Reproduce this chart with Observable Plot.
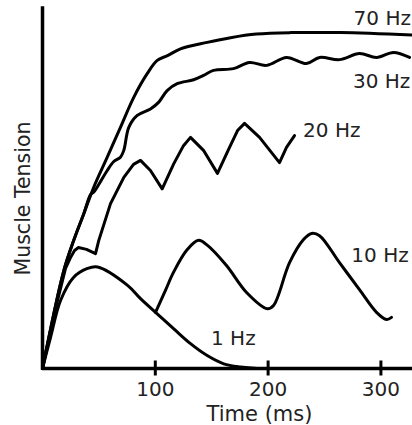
<!DOCTYPE html>
<html><head><meta charset="utf-8">
<script src="https://cdn.jsdelivr.net/npm/d3@7"></script>
<script src="https://cdn.jsdelivr.net/npm/@observablehq/plot@0.6"></script>
<style>
html,body{margin:0;padding:0;background:#fff;}
</style>
</head><body><div id="chart"></div>
<script>
// Time (ms) and muscle tension (arbitrary units, 0–100) for each stimulation frequency
const t70 = [0, 18.9, 27.7, 36.6, 45.5, 57.4, 69.1, 81.0, 92.8, 101.7, 110.8, 122.3, 146.0, 166.7, 189.7, 219.9, 264.2, 328];
const v70 = [0, 27.2, 35.6, 43.0, 50.4, 58.7, 67.0, 75.4, 81.9, 85.6, 86.9, 88.8, 90.6, 91.9, 92.9, 93.3, 93.3, 92.6];

const t30 = [0, 18.9, 27.7, 36.6, 42.6, 45.5, 51.4, 57.4, 63.2, 69.1, 72.1, 76.5, 84.0, 95.7, 103.1, 110.5, 119.4, 133.9, 142.7, 151.6, 169.3, 183.5, 198.6, 216.3, 234.0, 245.6, 263.3, 281.0, 296.1, 311.2, 325.4];
const v30 = [0, 27.2, 35.6, 43.0, 48.3, 49.0, 51.9, 55.0, 57.5, 58.7, 60.6, 67.0, 70.3, 72.1, 74.0, 77.2, 79.1, 80.2, 81.4, 82.8, 83.3, 85.0, 84.2, 86.4, 84.7, 86.4, 85.8, 87.5, 86.4, 87.8, 86.4];

const t20 = [0, 11.1, 20.4, 24.8, 28.4, 31.9, 39.0, 47.0, 49.9, 60.3, 72.1, 80.7, 86.9, 95.7, 106.1, 116.4, 125.0, 131.2, 142.7, 155.1, 165.8, 172.9, 179.1, 192.4, 210.1, 216.3, 223.4];
const v20 = [0, 16.1, 27.8, 30.8, 32.8, 33.6, 33.1, 31.9, 35.6, 45.8, 53.1, 56.7, 57.8, 55.0, 49.9, 56.9, 61.9, 64.2, 60.6, 54.2, 61.4, 66.1, 68.1, 64.2, 57.2, 61.4, 64.7];

const t10 = [100.2, 109.0, 116.1, 128.5, 138.3, 146.3, 163.1, 180.9, 199.2, 204.8, 219.0, 231.4, 238.5, 245.6, 263.3, 281.0, 296.1, 305.0, 309.4];
const v10 = [15.6, 21.7, 26.7, 33.1, 35.6, 34.2, 28.6, 21.1, 16.6, 17.5, 29.4, 35.8, 37.5, 36.9, 29.4, 21.9, 15.6, 13.6, 14.2];

const t1 = [0, 7.1, 16.0, 27.5, 39.9, 48.8, 75.4, 86.9, 100.2, 116.4, 131.2, 146.0, 160.7, 175.5, 190.3, 200.4];
const v1 = [0, 8.6, 18.9, 25.3, 27.8, 28.2, 23.1, 19.4, 15.6, 11.0, 6.9, 3.6, 1.3, 0.4, 0, 0];

const seriesNames = ["70 Hz", "30 Hz", "20 Hz", "10 Hz", "1 Hz"];
const labelTimes = [275.8, 275.2, 231.0, 273.8, 149.4];
const labelTensions = [97.1, 79.75, 66.2, 31.4, 8.2];
const xTicks = [100, 200, 300];
const xTitle = "Time (ms)";
const yTitle = "Muscle Tension";

const rows = (ts, vs) => ts.map((t, i) => ({t, v: vs[i]}));
const labels = seriesNames.map((name, i) => ({name, t: labelTimes[i], v: labelTensions[i]}));
const font = "'DejaVu Sans', Verdana, sans-serif";
const ink = "#000";
const textInk = "#222";
const lineOpts = {x: "t", y: "v", stroke: ink, strokeWidth: 3, strokeLinejoin: "round", strokeLinecap: "round"};

const chart = Plot.plot({
  width: 412,
  height: 425,
  marginLeft: 42,
  marginRight: 0,
  marginTop: 8,
  marginBottom: 57,
  x: {domain: [0, 328]},
  y: {domain: [0, 100], axis: null},
  style: {fontFamily: font, background: "#fff", color: textInk},
  marks: [
    Plot.ruleX([0], {stroke: ink, strokeWidth: 3.5, strokeLinecap: "square"}),
    Plot.ruleY([0], {stroke: ink, strokeWidth: 3.5}),
    Plot.axisX(xTicks, {label: null, tickSize: 15, dy: -7.5, tickFormat: () => "", stroke: ink, strokeWidth: 3}),
    Plot.axisX(xTicks, {label: null, tickSize: 0, tickPadding: 13, fontSize: 20, fill: textInk}),
    Plot.line(rows(t1, v1), {...lineOpts, curve: "catmull-rom"}),
    Plot.line(rows(t10, v10), {...lineOpts, curve: "catmull-rom"}),
    Plot.line(rows(t20, v20), {...lineOpts, curve: "linear"}),
    Plot.line(rows(t30, v30), {...lineOpts, curve: "catmull-rom"}),
    Plot.line(rows(t70, v70), {...lineOpts, curve: "catmull-rom"}),
    Plot.text(labels, {x: "t", y: "v", text: "name", textAnchor: "start", lineAnchor: "middle", fontSize: 20, fill: textInk}),
    Plot.text([xTitle], {frameAnchor: "bottom", textAnchor: "middle", lineAnchor: "middle", dx: 32, dy: 45.6, fontSize: 21, fill: textInk}),
    Plot.text([yTitle], {frameAnchor: "left", textAnchor: "middle", lineAnchor: "middle", rotate: -90, dx: -19.4, dy: 10, fontSize: 20.5, fill: textInk})
  ]
});
document.getElementById("chart").append(chart);
</script>
</body></html>
